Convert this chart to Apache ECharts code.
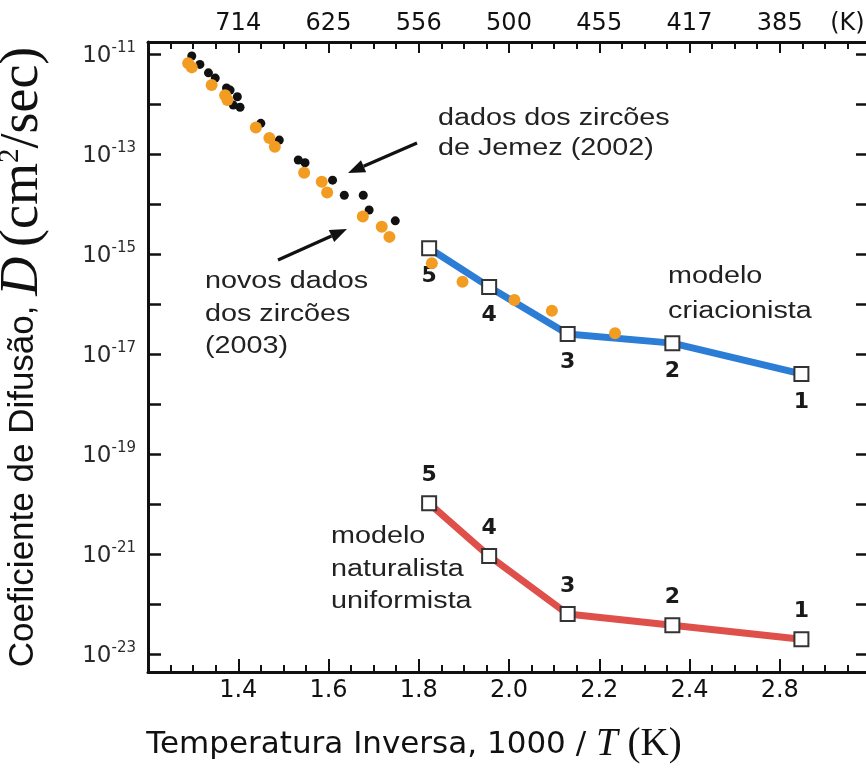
<!DOCTYPE html>
<html><head><meta charset="utf-8">
<script src="https://cdn.jsdelivr.net/npm/echarts@6/dist/echarts.min.js"></script>
<style>html,body{margin:0;padding:0;background:#fff}#c{width:866px;height:779px}</style>
</head><body><div id="c"></div>
<script>
// ---- data (1000/T in 1/K, D in cm^2/sec) ----
const jemez2002X = [1.297,1.315,1.334,1.349,1.374,1.382,1.398,1.404,1.389,1.450,1.491,1.533,1.548,1.609,1.635,1.677,1.690,1.748];
const jemez2002D = [9.1e-12,6.2e-12,4.2e-12,3.3e-12,2.1e-12,1.9e-12,1.4e-12,8.6e-13,9.5e-13,4.1e-13,1.9e-13,7.6e-14,6.7e-14,3.0e-14,1.5e-14,1.5e-14,7.6e-15,4.6e-15];
const zircon2003X = [1.289,1.297,1.341,1.371,1.376,1.439,1.469,1.481,1.546,1.585,1.597,1.676,1.718,1.735,1.829,1.897,2.012,2.095,2.235];
const zircon2003D = [6.5e-12,5.4e-12,2.4e-12,1.5e-12,1.2e-12,3.4e-13,2.1e-13,1.4e-13,4.2e-14,2.8e-14,1.7e-14,5.6e-15,3.5e-15,2.2e-15,6.5e-16,2.8e-16,1.2e-16,7.3e-17,2.6e-17];
const sampleLabels = ['5','4','3','2','1'];
const modelX = [1.823,1.956,2.130,2.362,2.648];
const creationistD = [1.3e-15,2.2e-16,2.5e-17,1.65e-17,4.0e-18];
const uniformitarianD = [1.03e-20,9.1e-22,6.3e-23,3.75e-23,1.97e-23];
const bottomTickValues = [1.4,1.6,1.8,2.0,2.2,2.4,2.6];
const bottomTickLabels = ['1.4','1.6','1.8','2.0','2.2','2.4','2.8'];
const topTickValues = [1.4,1.6,1.8,2.0,2.2,2.4,2.6,2.75];
const topTickLabels = ['714','625','556','500','455','417','385','(K)'];
const yTickDecades = [1e-23,1e-22,1e-21,1e-20,1e-19,1e-18,1e-17,1e-16,1e-15,1e-14,1e-13,1e-12,1e-11];
const yLabelDecades = [1e-23,1e-21,1e-19,1e-17,1e-15,1e-13,1e-11];

const SANS = 'DejaVu Sans';
const ARIAL = 'Liberation Sans';
const SERIF = 'Liberation Serif';
const INK = '#111';

const chart = echarts.init(document.getElementById('c'), null, {renderer:'canvas'});

const frameLine = {show:true, onZero:false, lineStyle:{color:INK, width:3}};
const yMin = Math.pow(10,-23.36), yMax = Math.pow(10,-10.76);
const pick = (vals, labels) => v => labels[vals.findIndex(t => Math.abs(t - v) < 1e-6)];

function arrow(x1,y1,x2,y2){
  const a = Math.atan2(y2-y1, x2-x1), L = 17, W = 6.5;
  const bx = x2 - L*Math.cos(a), by = y2 - L*Math.sin(a);
  const px = -Math.sin(a), py = Math.cos(a);
  return [
    {type:'line', shape:{x1:x1,y1:y1,x2:bx,y2:by}, style:{stroke:INK, lineWidth:3.2}},
    {type:'polygon', shape:{points:[[x2,y2],[bx+W*px,by+W*py],[bx-W*px,by-W*py]]}, style:{fill:INK}}
  ];
}
function note(lines, x, y0, dy){
  return lines.map((t,i)=>({type:'text', x:x, y:y0+i*dy, scaleX:1.25,
    style:{text:t, fontFamily:ARIAL, fontSize:23, fill:'#222', align:'left', verticalAlign:'middle'}}));
}

const option = {
  animation:false,
  backgroundColor:'#fff',
  grid:{left:148, top:42, width:722, height:630, outerBoundsMode:'none', containLabel:false},
  xAxis:[
    {type:'value', gridIndex:0, position:'bottom', min:1.2, max:2.8, interval:0.2,
     axisLine:frameLine,
     axisTick:{show:true, inside:true, length:13, lineStyle:{color:INK, width:2}},
     minorTick:{show:true, splitNumber:4, length:7, lineStyle:{color:INK, width:2}},
     axisLabel:{show:true, customValues:bottomTickValues, margin:7,
       formatter:pick(bottomTickValues, bottomTickLabels),
       fontFamily:SANS, fontSize:24, color:INK},
     splitLine:{show:false},
     name:'Temperatura Inversa, 1000 / {it|T} {sr|(K)}', nameLocation:'middle', nameGap:53,
     nameTextStyle:{fontFamily:SANS, fontSize:31, color:INK, padding:[0,190,0,0],
       rich:{it:{fontFamily:SERIF, fontStyle:'italic', fontSize:39, color:INK},
             sr:{fontFamily:SERIF, fontSize:39, color:INK}}}},
    {type:'value', gridIndex:0, position:'top', min:1.2, max:2.8, interval:0.2,
     axisLine:frameLine,
     axisTick:{show:true, inside:true, length:11, lineStyle:{color:INK, width:2}},
     minorTick:{show:true, splitNumber:4, length:7, lineStyle:{color:INK, width:2}},
     axisLabel:{show:true, customValues:topTickValues, margin:6,
       formatter:pick(topTickValues, topTickLabels),
       fontFamily:SANS, fontSize:24, color:INK},
     splitLine:{show:false}}
  ],
  yAxis:[
    {type:'log', logBase:10, gridIndex:0, position:'left', min:yMin, max:yMax,
     axisLine:frameLine,
     axisTick:{show:true, inside:true, length:13, customValues:yTickDecades, lineStyle:{color:INK, width:2.5}},
     axisLabel:{show:true, customValues:yLabelDecades, margin:12,
       formatter:v=>'{b|10}{s|'+Math.round(Math.log10(v))+'}',
       rich:{b:{fontFamily:SANS, fontSize:23, color:'#2a2a2a', verticalAlign:'bottom', lineHeight:27},
             s:{fontFamily:SANS, fontSize:15, color:'#2a2a2a', verticalAlign:'top', lineHeight:15}}},
     splitLine:{show:false},
     name:'Coeficiente de Difusão, {it|D} {sr|(cm}{sup|2}{sr|/sec)}', nameLocation:'middle', nameGap:98,
     nameTextStyle:{fontFamily:ARIAL, fontSize:35, color:INK,
       rich:{it:{fontFamily:SERIF, fontStyle:'italic', fontSize:54, color:INK},
             sr:{fontFamily:SERIF, fontSize:54, color:INK},
             sup:{fontFamily:SERIF, fontSize:29, color:INK, verticalAlign:'top'}}}},
    {type:'log', logBase:10, gridIndex:0, position:'right', min:yMin, max:yMax,
     axisLine:frameLine,
     axisTick:{show:true, inside:true, length:14, customValues:yTickDecades, lineStyle:{color:INK, width:2.5}},
     axisLabel:{show:false}, splitLine:{show:false}}
  ],
  series:[
    {type:'line', name:'modelo criacionista', xAxisIndex:0, yAxisIndex:0, z:2,
     data:modelX.map((x,i)=>[x, creationistD[i]]),
     lineStyle:{color:'#2b7dd6', width:7}, symbol:'rect', symbolSize:14,
     itemStyle:{color:'#fff', borderColor:'#333', borderWidth:2},
     label:{show:true, position:'bottom', distance:9, formatter:p=>sampleLabels[p.dataIndex],
       fontFamily:SANS, fontWeight:'bold', fontSize:22, color:'#1a1a1a'}},
    {type:'line', name:'modelo naturalista uniformista', xAxisIndex:0, yAxisIndex:0, z:2,
     data:modelX.map((x,i)=>[x, uniformitarianD[i]]),
     lineStyle:{color:'#e0504b', width:7}, symbol:'rect', symbolSize:14,
     itemStyle:{color:'#fff', borderColor:'#333', borderWidth:2},
     label:{show:true, position:'top', distance:9, formatter:p=>sampleLabels[p.dataIndex],
       fontFamily:SANS, fontWeight:'bold', fontSize:22, color:'#1a1a1a'}},
    {type:'scatter', name:'dados dos zircões de Jemez (2002)', xAxisIndex:0, yAxisIndex:0, z:3,
     data:jemez2002X.map((x,i)=>[x, jemez2002D[i]]), symbolSize:9, itemStyle:{color:'#111', opacity:1}},
    {type:'scatter', name:'novos dados dos zircões (2003)', xAxisIndex:0, yAxisIndex:0, z:4,
     data:zircon2003X.map((x,i)=>[x, zircon2003D[i]]), symbolSize:12, itemStyle:{color:'#f29c22', opacity:1}}
  ],
  graphic:[].concat(
    note(['dados dos zircões','de Jemez (2002)'], 438, 119, 30),
    note(['novos dados','dos zircões','(2003)'], 205, 282, 32.5),
    note(['modelo','criacionista'], 668, 277, 35),
    note(['modelo','naturalista','uniformista'], 331, 537, 32.5),
    arrow(417,143,348,173),
    arrow(278,260,347,229)
  )
};
chart.setOption(option);
</script></body></html>
